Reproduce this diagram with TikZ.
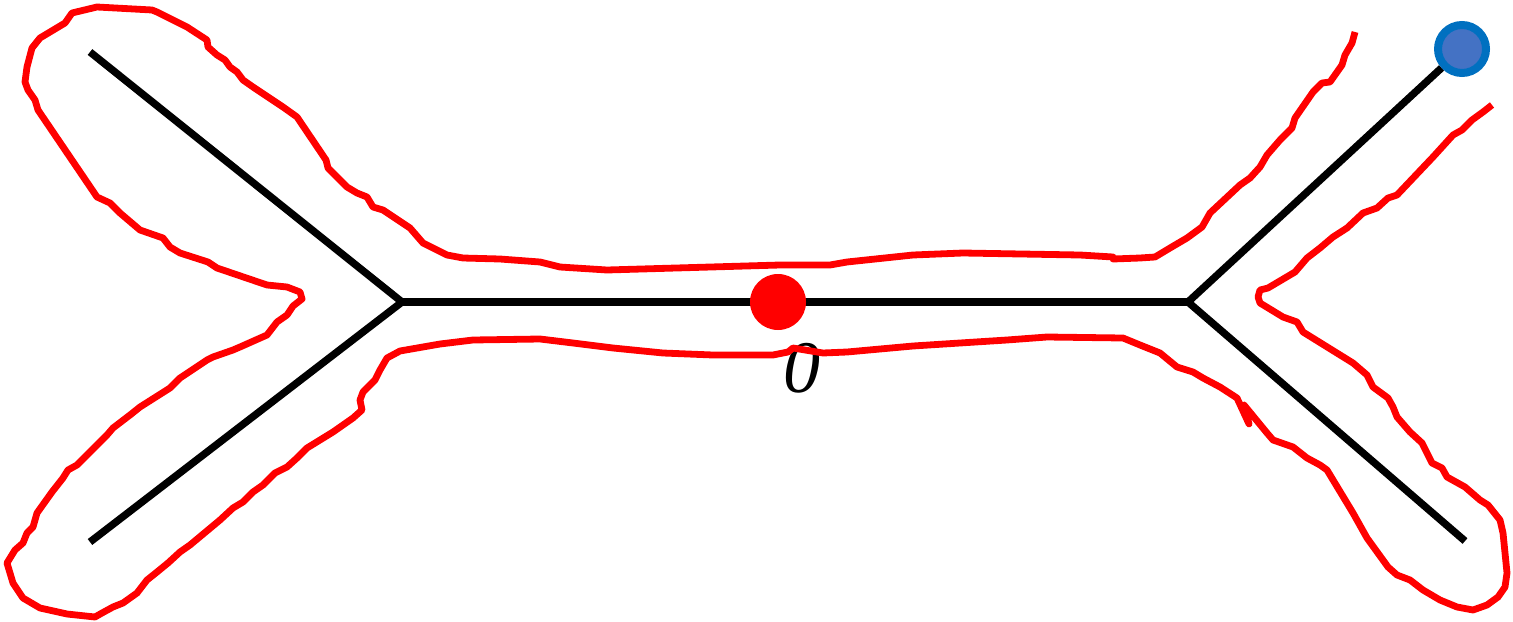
\documentclass[tikz,border=0pt]{standalone}
\usepackage{fontspec}
\setmainfont{Liberation Serif}

\begin{document}
\begin{tikzpicture}[
    x=0.5pt, y=-0.5pt, % one unit = one pixel of the sketch
    edge/.style={line width=3.7pt, black}, % Style for the tree edges
    trace/.style={line width=3.4pt, red, line join=round}, % Style for the hand-drawn loop
    reddot/.style={circle, fill=red, minimum size=28pt, inner sep=0pt}, % Point on the middle edge
    bluedot/.style={circle, fill={rgb,255:red,68;green,114;blue,196}, draw={rgb,255:red,0;green,112;blue,192}, line width=4pt, minimum size=24pt, inner sep=0pt}, % End point
    labelstyle/.style={font=\fontsize{37}{40}\selectfont\itshape, inner sep=0pt} % Style for labels
]
    \useasboundingbox (0,0) rectangle (1513,621);

    % Define key points of the tree
    \coordinate (LT) at (90,52);    % Left top leaf
    \coordinate (LB) at (90,542);   % Left bottom leaf
    \coordinate (VL) at (402,302);  % Left branch point
    \coordinate (VR) at (1188,302); % Right branch point
    \coordinate (RB) at (1465,541); % Right bottom leaf
    \node[bluedot] (RT) at (1462,49) {}; % Right top leaf

    % Edges
    \draw[edge] (LT) -- (VL) -- (LB);
    \draw[edge] (VL) -- (VR);
    \draw[edge] (VR) -- (RT);
    \draw[edge] (VR) -- (RB);

    % Label of the middle point
    \node[labelstyle] (lbl) at (802,368) {0};

    % Hand-drawn loop around the tree
    \draw[trace] (1355,32) -- (1352,43) -- (1345,55) -- (1342,65) -- (1330,82) -- (1322,83)
        -- (1313,92) -- (1295,118) -- (1292,128) -- (1280,140) -- (1267,155) -- (1260,167)
        -- (1250,178) -- (1240,185) -- (1210,213) -- (1202,227) -- (1187,238) -- (1170,248)
        -- (1155,257) -- (1140,258) -- (1113,259) -- (1113,257) -- (1080,255) -- (963,253)
        -- (913,255) -- (847,262) -- (830,265) -- (780,265) -- (607,270) -- (560,267)
        -- (540,262) -- (500,259) -- (463,258) -- (447,255) -- (423,243) -- (410,228)
        -- (383,210) -- (373,207) -- (367,197) -- (357,193) -- (347,187) -- (328,168)
        -- (326,160) -- (297,117) -- (283,107) -- (253,87) -- (243,80) -- (237,72)
        -- (230,67) -- (225,60) -- (217,55) -- (208,47) -- (207,40) -- (187,27)
        -- (167,17) -- (157,12) -- (152,10) -- (97,7) -- (72,13) -- (65,23)
        -- (40,38) -- (32,48) -- (27,67) -- (25,82) -- (28,90) -- (35,100)
        -- (38,110) -- (97,197) -- (110,203) -- (120,213) -- (140,230) -- (163,238)
        -- (170,247) -- (180,253) -- (208,262) -- (217,268) -- (267,285) -- (287,287)
        -- (300,292) -- (302,299) -- (293,306) -- (287,315) -- (277,322) -- (267,335)
        -- (240,347) -- (233,350) -- (213,357) -- (207,360) -- (180,378) -- (170,388)
        -- (140,407) -- (130,415) -- (113,428) -- (107,435) -- (77,465) -- (68,470)
        -- (63,478) -- (52,492) -- (37,513) -- (33,527) -- (27,533) -- (23,543)
        -- (15,550) -- (7,563) -- (13,583) -- (23,598) -- (40,608) -- (67,614)
        -- (95,617) -- (102,613) -- (113,607) -- (123,603) -- (137,593) -- (147,580)
        -- (157,572) -- (168,563) -- (180,552) -- (190,545) -- (208,530) -- (220,520)
        -- (233,508) -- (243,502) -- (253,492) -- (263,485) -- (275,473) -- (287,467)
        -- (297,458) -- (307,448) -- (333,432) -- (353,418) -- (362,410) -- (360,400)
        -- (363,392) -- (375,380) -- (380,370) -- (387,358) -- (400,351) -- (440,344)
        -- (473,340) -- (540,339) -- (573,343) -- (613,348) -- (663,353) -- (713,355)
        -- (773,355) -- (788,352) -- (793,348) -- (823,353) -- (847,352) -- (913,346)
        -- (1007,340) -- (1047,337) -- (1123,338) -- (1140,345) -- (1160,353) -- (1177,367)
        -- (1193,372) -- (1203,378) -- (1220,387) -- (1237,398) -- (1249,424) -- (1244,405)
        -- (1267,433) -- (1273,440) -- (1293,447) -- (1307,458) -- (1320,465) -- (1327,470)
        -- (1353,513) -- (1367,538) -- (1388,567) -- (1397,575) -- (1410,580) -- (1423,590)
        -- (1440,600) -- (1457,607) -- (1473,610) -- (1487,605) -- (1498,597) -- (1505,587)
        -- (1507,573) -- (1503,533) -- (1500,520) -- (1488,505) -- (1480,500) -- (1465,487)
        -- (1447,477) -- (1442,468) -- (1432,463) -- (1422,443) -- (1410,432) -- (1397,417)
        -- (1393,407) -- (1388,398) -- (1373,387) -- (1367,375) -- (1353,363) -- (1303,332)
        -- (1297,322) -- (1283,317) -- (1260,303) -- (1258,297) -- (1260,290) -- (1268,288)
        -- (1295,272) -- (1307,258) -- (1320,248) -- (1333,237) -- (1347,228) -- (1363,213)
        -- (1377,208) -- (1388,198) -- (1397,195) -- (1433,157) -- (1453,135) -- (1462,130)
        -- (1472,120) -- (1483,112) -- (1492,105);

    % Point on the middle edge
    \node[reddot] (O) at (778,302) {};

\end{tikzpicture}
\end{document}
